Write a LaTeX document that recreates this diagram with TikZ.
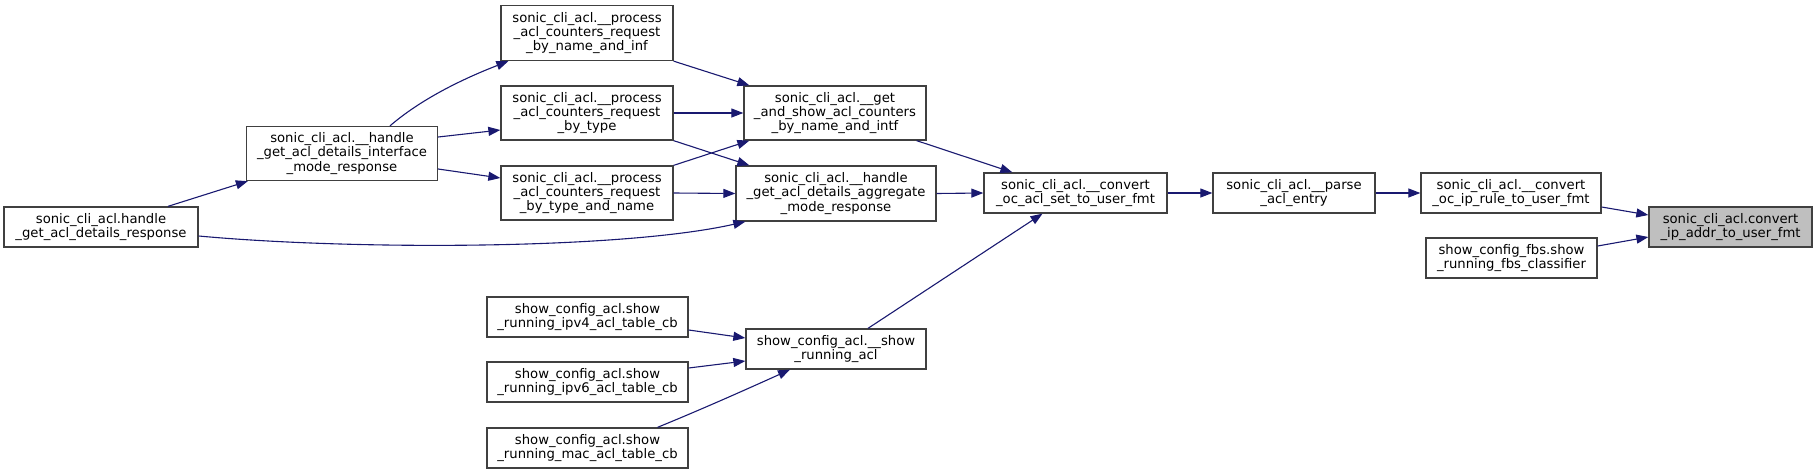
\documentclass[tikz,border=0pt]{standalone}
\usepackage{fontspec}
\setmainfont{DejaVu Sans}
\usepackage{tikz}
\usetikzlibrary{
  arrows.meta,
  calc
}
\definecolor{edgeblue}{RGB}{25,25,112}
\definecolor{boxline}{RGB}{64,64,64}
\definecolor{hilite}{RGB}{191,191,191}
\tikzset{
  fnbox/.style={draw=boxline, line width=1.3pt, fill=white,
    inner sep=0pt, align=center,
    font=\fontsize{13.2}{14.2}\selectfont},
  hibox/.style={fnbox, fill=hilite},
  arr/.style={-{Triangle[length=12pt, width=9pt]}, edgeblue, line width=1.1pt},
}

\begin{document}
\begin{tikzpicture}[x=1pt, y=-1pt]
  \useasboundingbox (0,0) rectangle (1817,474);

  % callers of the process functions
  \node[fnbox, minimum width=194pt, minimum height=40pt] (hr) at (101,227)
    {sonic\_cli\_acl.handle\\\_get\_acl\_details\_response};
  \node[fnbox, minimum width=191pt, minimum height=54pt] (iface) at (342,153.5)
    {sonic\_cli\_acl.\_\_handle\\\_get\_acl\_details\_interface\\\_mode\_response};

  % process functions
  \node[fnbox, minimum width=172pt, minimum height=55pt] (pname) at (587,33)
    {sonic\_cli\_acl.\_\_process\\\_acl\_counters\_request\\\_by\_name\_and\_inf};
  \node[fnbox, minimum width=172pt, minimum height=54pt] (ptype) at (587,113)
    {sonic\_cli\_acl.\_\_process\\\_acl\_counters\_request\\\_by\_type};
  \node[fnbox, minimum width=172pt, minimum height=54pt] (ptypename) at (587,193)
    {sonic\_cli\_acl.\_\_process\\\_acl\_counters\_request\\\_by\_type\_and\_name};

  % show_config_acl callbacks
  \node[fnbox, minimum width=201pt, minimum height=40pt] (ipv4) at (587.5,317)
    {show\_config\_acl.show\\\_running\_ipv4\_acl\_table\_cb};
  \node[fnbox, minimum width=201pt, minimum height=40pt] (ipv6) at (587.5,382)
    {show\_config\_acl.show\\\_running\_ipv6\_acl\_table\_cb};
  \node[fnbox, minimum width=201pt, minimum height=40pt] (mac) at (587.5,448)
    {show\_config\_acl.show\\\_running\_mac\_acl\_table\_cb};

  % middle column
  \node[fnbox, minimum width=182pt, minimum height=54pt] (getshow) at (835,113)
    {sonic\_cli\_acl.\_\_get\\\_and\_show\_acl\_counters\\\_by\_name\_and\_intf};
  \node[fnbox, minimum width=200pt, minimum height=55pt] (aggr) at (836,193.5)
    {sonic\_cli\_acl.\_\_handle\\\_get\_acl\_details\_aggregate\\\_mode\_response};
  \node[fnbox, minimum width=180pt, minimum height=40pt] (showacl) at (836,349)
    {show\_config\_acl.\_\_show\\\_running\_acl};

  % chain to the target
  \node[fnbox, minimum width=183pt, minimum height=40pt] (convacl) at (1075.5,193)
    {sonic\_cli\_acl.\_\_convert\\\_oc\_acl\_set\_to\_user\_fmt};
  \node[fnbox, minimum width=162pt, minimum height=40pt] (parse) at (1294,193)
    {sonic\_cli\_acl.\_\_parse\\\_acl\_entry};
  \node[fnbox, minimum width=180pt, minimum height=40pt] (convip) at (1511,193)
    {sonic\_cli\_acl.\_\_convert\\\_oc\_ip\_rule\_to\_user\_fmt};
  \node[fnbox, minimum width=171pt, minimum height=40pt] (fbs) at (1511.5,258)
    {show\_config\_fbs.show\\\_running\_fbs\_classifier};
  \node[hibox, minimum width=163pt, minimum height=40pt] (target) at (1730.5,227)
    {sonic\_cli\_acl.convert\\\_ip\_addr\_to\_user\_fmt};

  % edges
  \draw[arr] ([xshift=67]hr.north) -- ([xshift=2]iface.south west);
  \draw[arr] ([yshift=-9]hr.east) .. controls (350,250) and (620,250) .. ([xshift=10]aggr.south west);
  \draw[arr] ([xshift=48]iface.north) .. controls (420,100) and (460,80) .. ([xshift=8]pname.south west);
  \draw[arr] ([yshift=16.5]iface.east) -- ([yshift=-17]ptype.west);
  \draw[arr] ([yshift=-15.5]iface.east) -- ([yshift=15]ptypename.west);
  \draw[arr] (pname.south east) -- ([xshift=6]getshow.north west);
  \draw[arr] (ptype.east) -- (getshow.west);
  \draw[arr] (ptype.south east) -- ([xshift=14]aggr.north west);
  \draw[arr] (ptypename.north east) -- ([xshift=6]getshow.south west);
  \draw[arr] (ptypename.east) -- (aggr.west);
  \draw[arr] ([yshift=-13]ipv4.east) -- ([yshift=11]showacl.west);
  \draw[arr] ([yshift=14]ipv6.east) -- ([yshift=-12]showacl.west);
  \draw[arr] ([xshift=70]mac.north) .. controls (700,410) and (745,390) .. ([xshift=-46]showacl.south);
  \draw[arr] ([xshift=-10]getshow.south east) -- ([xshift=29]convacl.north west);
  \draw[arr] (aggr.east) -- (convacl.west);
  \draw[arr] ([xshift=32]showacl.north) -- ([xshift=-33]convacl.south);
  \draw[arr] (convacl.east) -- (parse.west);
  \draw[arr] (parse.east) -- (convip.west);
  \draw[arr] ([yshift=-14]convip.east) -- ([yshift=12]target.west);
  \draw[arr] ([yshift=12]fbs.east) -- ([yshift=-10]target.west);
\end{tikzpicture}
\end{document}
